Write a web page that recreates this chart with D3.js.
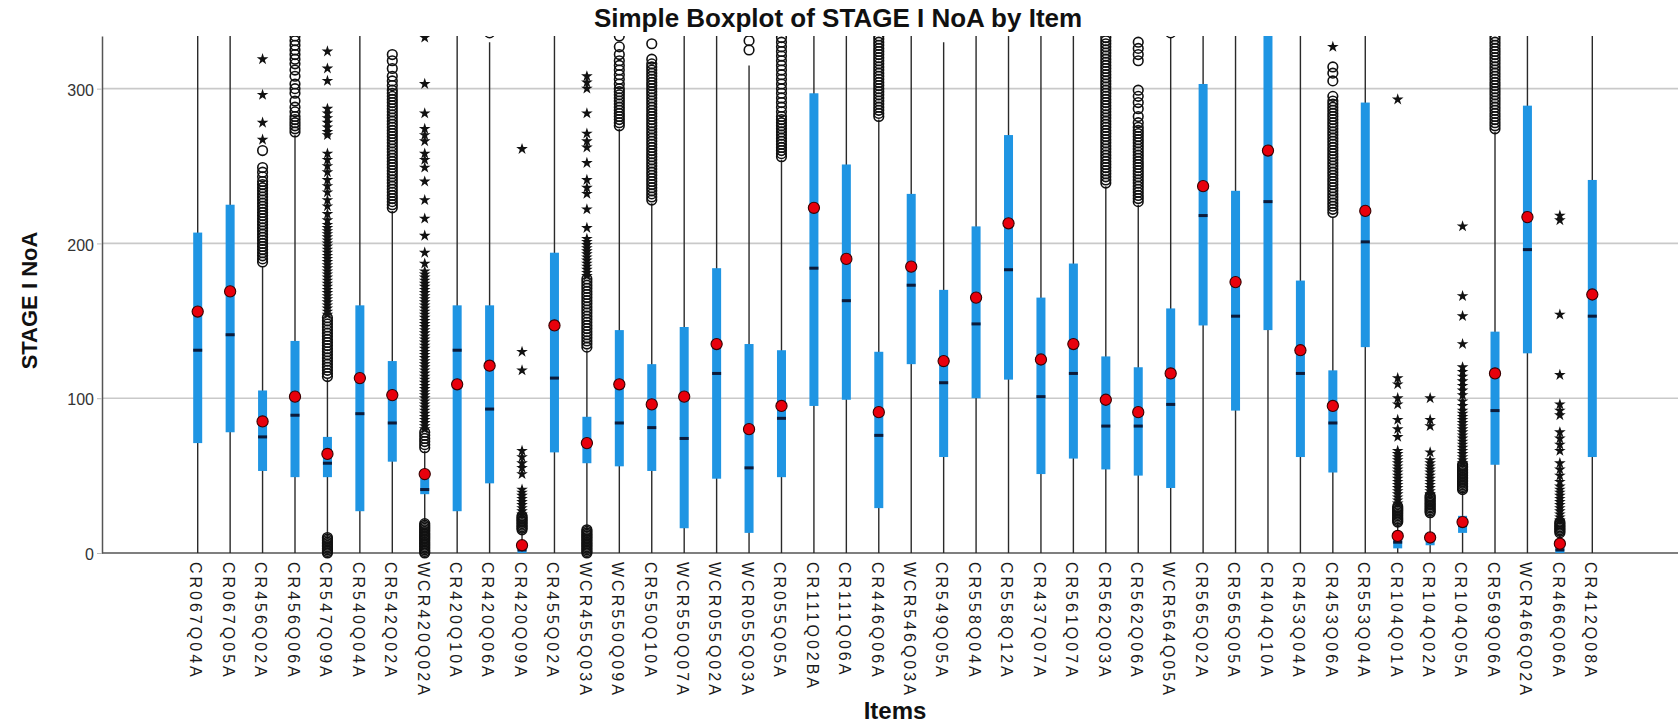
<!DOCTYPE html>
<html>
<head>
<meta charset="utf-8">
<script src="https://cdn.jsdelivr.net/npm/d3@7"></script>
<style>
body { margin: 0; background: #fff; }
svg { display: block; font-family: Arial, "Liberation Sans", sans-serif; }
</style>
</head>
<body>
<div id="chart"></div>
<script>
// items on the x axis
var items = ["CR067Q04A","CR067Q05A","CR456Q02A","CR456Q06A","CR547Q09A","CR540Q04A","CR542Q02A","WCR420Q02A",
  "CR420Q10A","CR420Q06A","CR420Q09A","CR455Q02A","WCR455Q03A","WCR550Q09A","CR550Q10A","WCR550Q07A",
  "WCR055Q02A","WCR055Q03A","CR055Q05A","CR111Q02BA","CR111Q06A","CR446Q06A","WCR546Q03A","CR549Q05A",
  "CR558Q04A","CR558Q12A","CR437Q07A","CR561Q07A","CR562Q03A","CR562Q06A","WCR564Q05A","CR565Q02A",
  "CR565Q05A","CR404Q10A","CR453Q04A","CR453Q06A","CR553Q04A","CR104Q01A","CR104Q02A","CR104Q05A",
  "CR569Q06A","WCR466Q02A","CR466Q06A","CR412Q08A"];

// box statistics, one value per item (340 = beyond the top of the plot)
var whiskerLow = [0,0,0,0,10,0,0,21,0,0,0,0,16,0,0,0,0,0,0,0,0,0,0,0,0,0,0,0,0,0,0,0,0,0,0,0,0,0,0,0,0,0,0,0];
var q1 = [71,78,53,49,49,27,59,38,27,45,0,65,58,56,53,16,48,13,49,95,99,29,122,62,100,112,51,61,54,50,42,147,92,144,62,52,133,3,5,13,57,129,0,62];
var median = [131,141,75,89,58,90,84,41,131,93,2,113,70,84,81,74,116,55,87,184,163,76,173,110,148,183,101,116,82,82,96,218,153,227,116,84,201,7,9,18,92,196,2,153];
var q3 = [207,225,105,137,75,160,124,48,160,160,6,194,88,144,122,146,184,135,131,297,251,130,232,170,211,270,165,187,127,120,158,303,234,340,176,118,291,10,13,24,143,289,5,241];
var whiskerHigh = [340,340,185,270,113,340,221,66,340,330,14,340,131,274,226,340,340,315,254,340,340,280,340,330,340,340,340,340,237,225,333,340,340,340,340,217,340,19,25,40,272,340,12,340];
var means = [156,169,85,101,64,113,102,51,109,121,5,147,71,109,96,101,135,80,95,223,190,91,185,124,165,213,125,135,99,91,116,237,175,260,131,95,221,11,10,20,116,217,6,167];

// outliers (circles), per item
var outliers = [
  [],
  [],
  [188,190,192,194,196,198,200,202,204,206,208,210,212,214,216,218,220,222,224,226,228,230,232,234,236,238,240,243,246,249,260],
  [272,274,276,278,280,282,285,288,292,297,300,303,308,312,316,319,322,325,328,331,334],
  [0,1,2,3,4,5,6,7,8,9,10,114,116,118,120,122,124,126,128,130,132,134,136,138,140,142,144,146,148,150,152],
  [],
  [223,225,227,229,231,233,235,237,239,241,243,245,247,249,251,253,255,257,259,261,263,265,267,269,271,273,275,277,279,281,283,285,287,289,291,293,295,297,299,302,305,308,313,318,322],
  [0,1,2,3,4,5,6,7,8,9,10,11,12,13,14,15,16,17,18,19,68,70,72,74,76,78],
  [],
  [336],
  [15,16,17,18,19,20,21,22,23,24],
  [],
  [0,1,2,3,4,5,6,7,8,9,10,11,12,13,14,15,133,135,137,139,141,143,145,147,149,151,153,155,157,159,161,163,165,167,169,171,173,175,177],
  [276,278,280,282,284,286,288,290,292,294,296,298,300,303,306,309,312,315,318,322,327,334],
  [228,230,232,234,236,238,240,242,244,246,248,250,252,254,256,258,260,262,264,266,268,270,272,274,276,278,280,282,284,286,288,290,292,294,296,298,300,302,304,306,308,310,312,314,316,319,329],
  [],
  [],
  [325,331],
  [256,258,260,262,264,266,268,270,272,274,276,278,280,282,285,288,291,294,297,300,303,306,309,312,315,318,321,324,327,330,333],
  [],
  [],
  [282,284,286,288,290,292,294,296,298,300,302,304,306,308,310,312,314,316,318,320,322,324,326,328,330,332,334],
  [],[],[],[],[],[],
  [239,241,243,245,247,249,251,253,255,257,259,261,263,265,267,269,271,273,275,277,279,281,283,285,287,289,291,293,295,297,299,301,303,305,307,309,311,313,315,317,319,321,323,325,327,329,331,333],
  [227,229,231,233,235,237,239,241,243,245,247,249,251,253,255,257,259,261,263,265,267,269,271,273,275,278,282,287,291,295,299,318,322,326,330],
  [336],
  [],[],[],[],
  [220,222,224,226,228,230,232,234,236,238,240,242,244,246,248,250,252,254,256,258,260,262,264,266,268,270,272,274,276,278,280,282,284,286,288,290,292,295,305,310,314],
  [],
  [20,21,22,23,24,25,26,27,28,29,30],
  [26,27,28,29,30,31,32,33,34,35,36,37],
  [41,42,43,44,45,46,47,48,49,50,51,52,53,54,55,56,57],
  [274,276,278,280,282,284,286,288,290,292,294,296,298,300,302,304,306,308,310,312,314,316,318,320,322,324,326,328,330,332,334],
  [],
  [13,14,15,16,17,18,19,20],
  []
];

// extreme values (stars), per item
var extremes = [
  [],                                   // CR067Q04A
  [],                                   // CR067Q05A
  [267,278,296,319],                    // CR456Q02A
  [],                                   // CR456Q06A
  [154,156,158,160,162,164,166,168,170,172,174,176,178,180,182,184,186,188,190,192,194,196,198,200,202,204,206,208,210,212,215,219,224,228,233,237,241,246,250,254,258,270,272,275,278,281,284,287,305,313,324],
  [],                                   // CR540Q04A
  [],                                   // CR542Q02A
  [80,82,84,86,88,90,92,94,96,98,100,102,104,106,108,110,112,114,116,118,120,122,124,126,128,130,132,134,136,138,140,142,144,146,148,150,152,154,156,158,160,162,164,166,168,170,172,174,176,178,180,182,187,194,205,216,228,240,249,254,258,266,270,274,284,303,333],
  [],                                   // CR420Q10A
  [],                                   // CR420Q06A
  [25,27,29,31,33,35,37,39,41,51,55,58,62,66,118,130,261],
  [],                                   // CR455Q02A
  [179,181,183,185,187,189,191,193,195,197,199,201,203,210,222,232,236,241,252,262,266,271,284,300,304,308],
  [],                                   // WCR550Q09A
  [],                                   // CR550Q10A
  [],                                   // WCR550Q07A
  [],                                   // WCR055Q02A
  [],                                   // WCR055Q03A
  [],                                   // CR055Q05A
  [],                                   // CR111Q02BA
  [],                                   // CR111Q06A
  [],                                   // CR446Q06A
  [],                                   // WCR546Q03A
  [],                                   // CR549Q05A
  [],                                   // CR558Q04A
  [],                                   // CR558Q12A
  [],                                   // CR437Q07A
  [],                                   // CR561Q07A
  [],                                   // CR562Q03A
  [],                                   // CR562Q06A
  [],                                   // WCR564Q05A
  [],                                   // CR565Q02A
  [],                                   // CR565Q05A
  [],                                   // CR404Q10A
  [],                                   // CR453Q04A
  [327],                                // CR453Q06A
  [],                                   // CR553Q04A
  [32,34,36,38,40,42,44,46,48,50,52,54,56,58,60,62,64,66,75,80,86,96,100,109,113,293],
  [38,40,42,44,46,48,50,52,54,56,58,60,65,82,86,100],
  [58,60,62,64,66,68,70,72,74,76,78,80,82,84,86,88,90,92,95,98,102,105,108,111,114,117,120,135,153,166,211],
  [],                                   // CR569Q06A
  [],                                   // WCR466Q02A
  [21,23,25,27,29,31,33,35,37,39,41,43,46,50,54,58,66,70,74,78,89,92,96,115,154,215,218],
  []                                    // CR412Q08A
];

var yTicks = [0, 100, 200, 300];

var ctx = {
  w: 1678,
  h: 726,
  left: 102,
  right: 1678,
  top: 36,
  bottom: 553,
  firstX: 197.7,
  lastX: 1592.3,
  yMax: 334,
  boxWidth: 9,
  blue: "#1f95e3",
  red: "#e8000c",
};

var createViz = function() {
  var svgEl = d3.select("#chart").append("svg")
    .attr("width", ctx.w)
    .attr("height", ctx.h);

  ctx.x = d3.scalePoint().domain(items).range([ctx.firstX, ctx.lastX]);
  ctx.y = d3.scaleLinear().domain([0, ctx.yMax]).range([ctx.bottom, ctx.top]);

  ctx.rows = items.map(function(name, i) {
    return {
      name: name, lo: whiskerLow[i], q1: q1[i], med: median[i], q3: q3[i],
      hi: whiskerHigh[i], mean: means[i], circles: outliers[i], stars: extremes[i]
    };
  });

  svgEl.append("defs").append("clipPath")
    .attr("id", "plotclip")
    .append("rect")
    .attr("x", ctx.left)
    .attr("y", ctx.top)
    .attr("width", ctx.right - ctx.left)
    .attr("height", ctx.h - ctx.top);

  addGrid(svgEl);
  addAxes(svgEl);
  addBoxes(svgEl);
  addTitles(svgEl);
};

var addGrid = function(svgEl) {
  svgEl.append("g").selectAll("line")
    .data(yTicks.filter(d => d > 0))
    .enter()
    .append("line")
    .attr("x1", ctx.left)
    .attr("x2", ctx.right)
    .attr("y1", d => ctx.y(d))
    .attr("y2", d => ctx.y(d))
    .attr("stroke", "#c9c9c9")
    .attr("stroke-width", 1.6);
};

var addAxes = function(svgEl) {
  var yAxis = svgEl.append("g")
    .attr("transform", "translate(" + ctx.left + ",0)")
    .call(d3.axisLeft(ctx.y).tickValues(yTicks).tickSize(5).tickSizeOuter(0));
  yAxis.select(".domain").attr("stroke", "#555").attr("stroke-width", 1.5);
  yAxis.selectAll(".tick line").attr("stroke", "#bbb");
  yAxis.selectAll(".tick text")
    .attr("font-size", "16px")
    .attr("fill", "#333")
    .attr("x", -8)
    .attr("dy", "0.42em")
    .style("font-family", "Arial, 'Liberation Sans', sans-serif");

  svgEl.append("line")
    .attr("x1", ctx.left)
    .attr("x2", ctx.right)
    .attr("y1", ctx.y(0))
    .attr("y2", ctx.y(0))
    .attr("stroke", "#555")
    .attr("stroke-width", 1.5);

  svgEl.append("g").selectAll("text")
    .data(items)
    .enter()
    .append("text")
    .attr("transform", d => "translate(" + ctx.x(d) + "," + (ctx.bottom + 9) + ") rotate(90)")
    .attr("dy", "0.45em")
    .attr("font-size", "16px")
    .attr("letter-spacing", "3px")
    .attr("fill", "#1a1a1a")
    .text(d => d);
};

var addBoxes = function(svgEl) {
  var g = svgEl.append("g").attr("clip-path", "url(#plotclip)");
  var bw = ctx.boxWidth;

  g.selectAll(".whisker")
    .data(ctx.rows)
    .enter()
    .append("line")
    .attr("class", "whisker")
    .attr("x1", d => ctx.x(d.name))
    .attr("x2", d => ctx.x(d.name))
    .attr("y1", d => ctx.y(d.lo))
    .attr("y2", d => ctx.y(d.hi))
    .attr("stroke", "#2a2a2a")
    .attr("stroke-width", 1.4);

  g.selectAll(".box")
    .data(ctx.rows)
    .enter()
    .append("rect")
    .attr("class", "box")
    .attr("x", d => ctx.x(d.name) - bw / 2)
    .attr("width", bw)
    .attr("y", d => ctx.y(d.q3))
    .attr("height", d => ctx.y(d.q1) - ctx.y(d.q3))
    .attr("fill", ctx.blue);

  g.selectAll(".median")
    .data(ctx.rows)
    .enter()
    .append("rect")
    .attr("class", "median")
    .attr("x", d => ctx.x(d.name) - bw / 2)
    .attr("width", bw)
    .attr("y", d => ctx.y(d.med) - 1.5)
    .attr("height", 3)
    .attr("fill", "#0c1b3a");

  var circleData = [];
  var starData = [];
  ctx.rows.forEach(function(r) {
    r.circles.forEach(v => circleData.push({ name: r.name, v: v }));
    r.stars.forEach(v => starData.push({ name: r.name, v: v }));
  });

  g.selectAll(".outlier")
    .data(circleData)
    .enter()
    .append("circle")
    .attr("class", "outlier")
    .attr("cx", d => ctx.x(d.name))
    .attr("cy", d => ctx.y(d.v))
    .attr("r", 4.8)
    .attr("fill", "none")
    .attr("stroke", "#111")
    .attr("stroke-width", 1.6);

  var star = d3.symbol().type(d3.symbolStar).size(42);
  g.selectAll(".extreme")
    .data(starData)
    .enter()
    .append("path")
    .attr("class", "extreme")
    .attr("d", star)
    .attr("transform", d => "translate(" + ctx.x(d.name) + "," + ctx.y(d.v) + ")")
    .attr("fill", "#111");

  g.selectAll(".mean")
    .data(ctx.rows)
    .enter()
    .append("circle")
    .attr("class", "mean")
    .attr("cx", d => ctx.x(d.name))
    .attr("cy", d => ctx.y(d.mean))
    .attr("r", 5.6)
    .attr("fill", ctx.red)
    .attr("stroke", "#3a0000")
    .attr("stroke-width", 1.1);
};

var addTitles = function(svgEl) {
  svgEl.append("text")
    .attr("x", 838)
    .attr("y", 27)
    .attr("text-anchor", "middle")
    .attr("font-size", "26px")
    .attr("font-weight", "bold")
    .attr("fill", "#111")
    .text("Simple Boxplot of STAGE I NoA by Item");

  svgEl.append("text")
    .attr("transform", "translate(29," + ((ctx.top + ctx.bottom) / 2 + 6) + ") rotate(-90)")
    .attr("text-anchor", "middle")
    .attr("dy", "0.35em")
    .attr("font-size", "22px")
    .attr("font-weight", "bold")
    .attr("fill", "#111")
    .text("STAGE I NoA");

  svgEl.append("text")
    .attr("x", 895)
    .attr("y", 719)
    .attr("text-anchor", "middle")
    .attr("font-size", "24px")
    .attr("font-weight", "bold")
    .attr("fill", "#111")
    .text("Items");
};

createViz();
</script>
</body>
</html>
